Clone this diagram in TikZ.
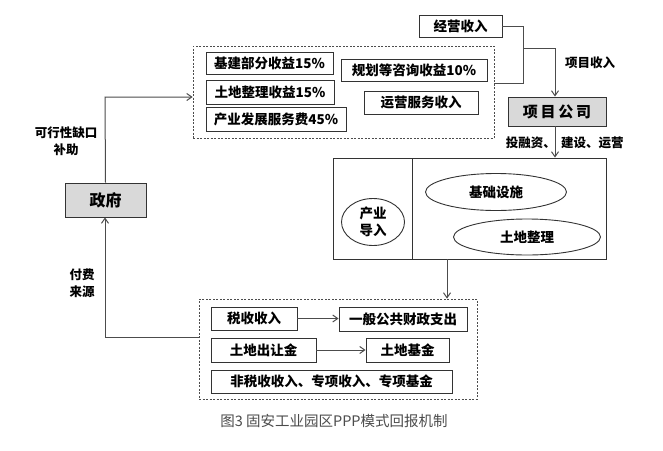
\documentclass[tikz,border=0pt]{standalone}
\usepackage{fontspec}
\newfontfamily\cjk{Noto Sans CJK SC}
\newfontfamily\cjkwide{Noto Sans CJK SC}[LetterSpace=18]
\usetikzlibrary{arrows.meta,shapes.geometric}
\tikzset{
  box/.style={draw=black!80, line width=0.9pt, inner sep=0pt, align=center,
    font=\cjk\bfseries\fontsize{13.5}{16}\selectfont},
  graybox/.style={box, fill=black!15},
  ebox/.style={ellipse, draw=black!80, line width=0.9pt, inner sep=0pt, align=center,
    font=\cjk\bfseries\fontsize{13.5}{17}\selectfont},
  dbox/.style={draw=black!70, dash pattern=on 2pt off 1.5pt, line width=0.8pt, inner sep=0pt},
  conn/.style={draw=black!70, line width=1pt},
  arr/.style={conn, -{Straight Barb[length=5pt,width=7pt]}},
  lab/.style={inner sep=0pt, align=center, font=\cjk\bfseries\fontsize{12.5}{17}\selectfont}
}
\begin{document}
\begin{tikzpicture}[x=1pt,y=-1pt]
\useasboundingbox[fill=white] (0,0) rectangle (663,450);
% top group
\node[dbox, minimum width=301pt, minimum height=92pt] (topgrp) at (343.5,92) {};
\node[box, minimum width=127pt, minimum height=22pt] (b1) at (269.5,63) {基建部分收益15\%};
\node[box, minimum width=146pt, minimum height=22pt] (b2) at (414,70) {规划等咨询收益10\%};
\node[box, minimum width=128pt, minimum height=24pt] (b3) at (270,92) {土地整理收益15\%};
\node[box, minimum width=114pt, minimum height=23pt] (b4) at (421,102.5) {运营服务收入};
\node[box, minimum width=140pt, minimum height=24pt] (b5) at (276,119) {产业发展服务费45\%};
% operating income
\node[box, minimum width=83pt, minimum height=22pt] (jy) at (460.5,26) {经营收入};
\node[graybox, minimum width=98pt, minimum height=29pt, font=\cjkwide\bfseries\fontsize{15}{18}\selectfont] (xm) at (557,111.5) {项目公司};
\coordinate (c1) at (523,26);
\coordinate (c2) at (523,83);
\coordinate (c3) at (523,48);
\coordinate (c4) at (555,48);
\draw[conn] (jy.east) -- (c1) -- (c2) -- (c2 -| topgrp.east);
\draw[arr] (c3) -- (c4) -- (c4 |- xm.north);
\node[lab] (lxs) at (590,63) {项目收入};
% main box
\node[box, minimum width=273pt, minimum height=101pt] (main) at (469.5,208.5) {};
\coordinate (d1) at (412,158);
\coordinate (d2) at (412,259);
\draw[draw=black!80, line width=0.9pt] (d1) -- (d2);
\node[ebox, minimum width=63pt, minimum height=47pt] (cy) at (373,222) {产业\\导入};
\node[ebox, minimum width=141pt, minimum height=37pt] (jc) at (496,192) {基础设施};
\node[ebox, minimum width=147pt, minimum height=36pt] (td) at (527,237) {土地整理};
\coordinate (m1) at (555,126);
\draw[arr] (m1) -- (m1 |- main.north);
\node[lab, anchor=east] (ltr) at (556,143) {投融资、};
\node[lab, anchor=west] (ljs) at (561,143) {建设、运营};
% bottom group
\node[dbox, minimum width=278pt, minimum height=100pt] (botgrp) at (338,349) {};
\coordinate (m2) at (447,259);
\draw[arr] (m2) -- (m2 |- botgrp.north);
\node[box, minimum width=86pt, minimum height=23pt] (s1) at (254,318.5) {税收收入};
\node[box, minimum width=128pt, minimum height=24pt] (s2) at (403,319) {一般公共财政支出};
\node[box, minimum width=105pt, minimum height=24pt] (s3) at (263.5,350) {土地出让金};
\node[box, minimum width=83pt, minimum height=24pt] (s4) at (407.5,350) {土地基金};
\node[box, minimum width=241pt, minimum height=23pt] (s5) at (331.5,381.5) {非税收收入、专项收入、专项基金};
\draw[arr] (s1.east) -- (s1.east -| s2.west);
\draw[arr] (s3.east) -- (s4.west);
% government
\node[graybox, minimum width=81pt, minimum height=34pt, font=\cjk\bfseries\fontsize{16}{18}\selectfont] (gov) at (105.5,200) {政府};
\coordinate (g1) at (199,337);
\coordinate (g2) at (105,337);
\coordinate (g3) at (105,97);
\draw[arr] (g1) -- (g2) -- (g2 |- gov.south);
\draw[arr] (gov.north) -- (g3) -- (g3 -| topgrp.west);
\node[lab] (lbz) at (66,141) {可行性缺口\\补助};
\node[lab] (lff) at (82,283) {付费\\来源};
% caption
\node[inner sep=0pt, text=black!70, font=\cjk\fontsize{14.5}{16}\selectfont] (cap) at (334,421) {图3 固安工业园区PPP模式回报机制};
\end{tikzpicture}
\end{document}
